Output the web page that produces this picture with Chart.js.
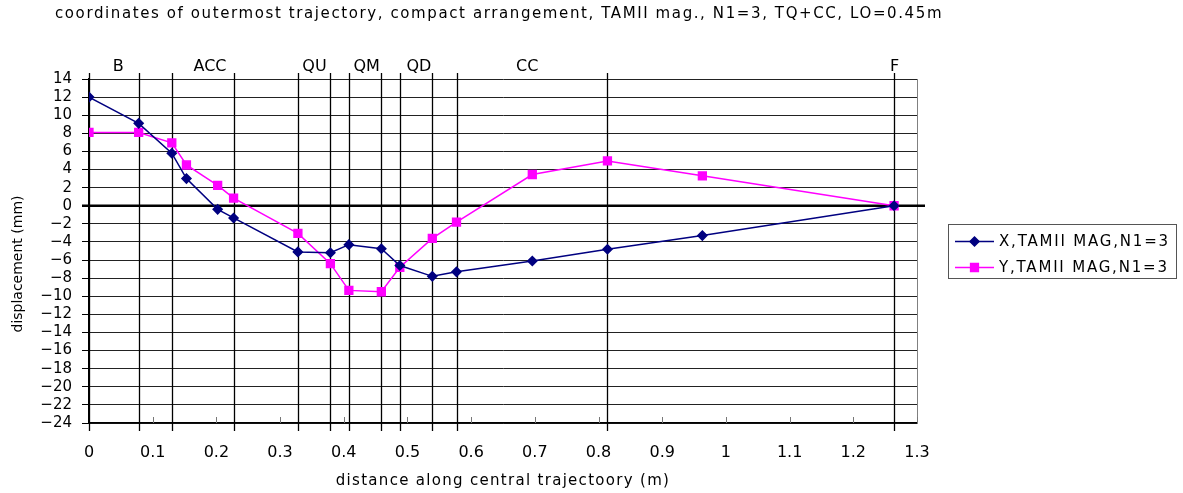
<!DOCTYPE html>
<html>
<head>
<meta charset="utf-8">
<script src="https://cdn.jsdelivr.net/npm/chart.js@4/dist/chart.umd.min.js"></script>
<style>
  html, body { margin: 0; padding: 0; background: #fff; }
  #wrap { width: 1183px; height: 493px; }
</style>
</head>
<body>
<div id="wrap"><canvas id="chart" width="1183" height="493"></canvas></div>
<script>
// distance along central trajectory (m)
const distance = [0, 0.078, 0.130, 0.153, 0.202, 0.227, 0.328, 0.379, 0.408, 0.459, 0.488, 0.539, 0.577, 0.696, 0.814, 0.963, 1.264];
// displacement (mm)
const xTamii = [12.0, 9.1, 5.8, 3.0, -0.4, -1.35, -5.1, -5.2, -4.3, -4.75, -6.6, -7.8, -7.3, -6.1, -4.8, -3.3, 0];
const yTamii = [8.1, 8.1, 6.95, 4.5, 2.25, 0.85, -3.05, -6.4, -9.35, -9.5, -6.8, -3.6, -1.8, 3.45, 4.95, 3.3, 0];

const seriesNames = ['X,TAMII MAG,N1=3', 'Y,TAMII MAG,N1=3'];

// element boundaries and section names along the beam line
const boundaries = [0, 0.078, 0.130, 0.227, 0.328, 0.379, 0.408, 0.459, 0.488, 0.539, 0.577, 0.814, 1.264];
const sectionNames = ['B', 'ACC', 'QU', 'QM', 'QD', 'CC', 'F'];
const sectionLabelAt = [0.046, 0.190, 0.354, 0.436, 0.518, 0.688, 1.265];

const titleText = 'coordinates of outermost trajectory, compact arrangement, TAMII mag., N1=3, TQ+CC, LO=0.45m';
const xTitle = 'distance along central trajectoory (m)';
const yTitle = 'displacement (mm)';
const FONT = '"DejaVu Sans", "Liberation Sans", sans-serif';

const toPoints = vals => vals.map((v, i) => ({ x: distance[i], y: v }));

// custom drawing: section lines, zero line, titles, bordered legend
const beamlinePlugin = {
    id: 'beamline',
    beforeDatasetsDraw(chart) {
        const { ctx, chartArea: a, scales: { x, y } } = chart;
        ctx.save();
        // plot area border (right side grey)
        ctx.strokeStyle = '#808080';
        ctx.lineWidth = 1;
        ctx.beginPath();
        ctx.moveTo(a.right + 0.5, a.top);
        ctx.lineTo(a.right + 0.5, a.bottom);
        ctx.stroke();
        // small inward ticks on the x axis
        ctx.strokeStyle = '#777';
        x.ticks.forEach(t => {
            const px = Math.round(x.getPixelForValue(t.value)) + 0.5;
            ctx.beginPath();
            ctx.moveTo(px, a.bottom - 6);
            ctx.lineTo(px, a.bottom);
            ctx.stroke();
        });
        // section boundary lines
        ctx.strokeStyle = '#000';
        ctx.lineWidth = 1.3;
        boundaries.forEach(b => {
            const px = Math.round(x.getPixelForValue(b)) + 0.5;
            ctx.beginPath();
            ctx.moveTo(px, a.top - 6);
            ctx.lineTo(px, a.bottom + 8);
            ctx.stroke();
        });
        // zero line
        const y0 = y.getPixelForValue(0);
        ctx.lineWidth = 2.6;
        ctx.beginPath();
        ctx.moveTo(a.left - 7, y0);
        ctx.lineTo(a.right + 8, y0);
        ctx.stroke();
        // section names
        ctx.fillStyle = '#000';
        ctx.font = '16px ' + FONT;
        ctx.textAlign = 'center';
        ctx.textBaseline = 'middle';
        sectionNames.forEach((s, i) => {
            ctx.fillText(s, x.getPixelForValue(sectionLabelAt[i]), a.top - 12);
        });
        ctx.restore();
    },
    afterDraw(chart) {
        const { ctx, chartArea: a } = chart;
        ctx.save();
        ctx.fillStyle = '#000';
        ctx.textBaseline = 'middle';
        // chart title
        ctx.font = '15px ' + FONT;
        ctx.textAlign = 'left';
        ctx.letterSpacing = '1.6px';
        ctx.fillText(titleText, 55, 14);
        // axis titles
        ctx.textAlign = 'center';
        ctx.letterSpacing = '1.3px';
        ctx.fillText(xTitle, (a.left + a.right) / 2, 481);
        ctx.save();
        ctx.translate(18, 264);
        ctx.rotate(-Math.PI / 2);
        ctx.font = '14px ' + FONT;
        ctx.letterSpacing = '0px';
        ctx.fillText(yTitle, 0, 0);
        ctx.restore();
        // legend
        ctx.strokeStyle = '#555';
        ctx.lineWidth = 1;
        ctx.strokeRect(948.5, 224.5, 228, 54);
        ctx.textAlign = 'left';
        chart.data.datasets.forEach((ds, i) => {
            const ly = 241.5 + i * 26;
            ctx.strokeStyle = ds.borderColor;
            ctx.lineWidth = 1.5;
            ctx.beginPath();
            ctx.moveTo(955, ly);
            ctx.lineTo(994, ly);
            ctx.stroke();
            ctx.fillStyle = ds.pointBackgroundColor;
            ctx.strokeStyle = ds.pointBorderColor;
            Chart.helpers.drawPoint(ctx, { pointStyle: ds.pointStyle, radius: ds.pointRadius, borderWidth: 1 }, 974.5, ly);
            ctx.fillStyle = '#000';
            ctx.font = '15px ' + FONT;
            ctx.letterSpacing = '1.8px';
            ctx.fillText(ds.label, 999, ly + 1);
        });
        ctx.restore();
    }
};

const ctx = document.getElementById('chart').getContext('2d');
new Chart(ctx, {
    type: 'line',
    data: {
        datasets: [{
            label: seriesNames[0],
            data: toPoints(xTamii),
            borderColor: '#000080',
            backgroundColor: '#000080',
            pointBackgroundColor: '#000080',
            pointBorderColor: '#000080',
            pointStyle: 'rectRot',
            pointRadius: 4.5,
            borderWidth: 1.5,
            tension: 0
        }, {
            label: seriesNames[1],
            data: toPoints(yTamii),
            borderColor: '#FF00FF',
            backgroundColor: '#FF00FF',
            pointBackgroundColor: '#FF00FF',
            pointBorderColor: '#FF00FF',
            pointStyle: 'rect',
            pointRadius: 5.5,
            borderWidth: 1.5,
            tension: 0
        }]
    },
    options: {
        responsive: false,
        animation: false,
        events: [],
        layout: { padding: { top: 79, right: 266, left: 0, bottom: 0 } },
        scales: {
            x: {
                type: 'linear',
                min: 0,
                max: 1.3,
                afterFit: s => { s.height = 70; },
                grid: { display: false, drawTicks: false },
                border: { display: true, color: '#000', width: 1.5 },
                ticks: {
                    stepSize: 0.1,
                    padding: 20,
                    color: '#000',
                    font: { family: FONT, size: 16 },
                    maxRotation: 0,
                    callback: v => String(+v.toFixed(1))
                },
                title: { display: false }
            },
            y: {
                min: -24,
                max: 14,
                afterFit: s => { s.width = 89; },
                grid: { color: '#222', lineWidth: 1, tickLength: 7, tickColor: '#000' },
                border: { display: true, color: '#000', width: 1.5 },
                ticks: {
                    stepSize: 2,
                    padding: 10,
                    color: '#000',
                    font: { family: FONT, size: 15, lineHeight: 1 },
                    callback: v => String(v).replace('-', '\u2212')
                },
                title: { display: false }
            }
        },
        plugins: {
            legend: { display: false },
            title: { display: false },
            tooltip: { enabled: false }
        }
    },
    plugins: [beamlinePlugin]
});
</script>
</body>
</html>
